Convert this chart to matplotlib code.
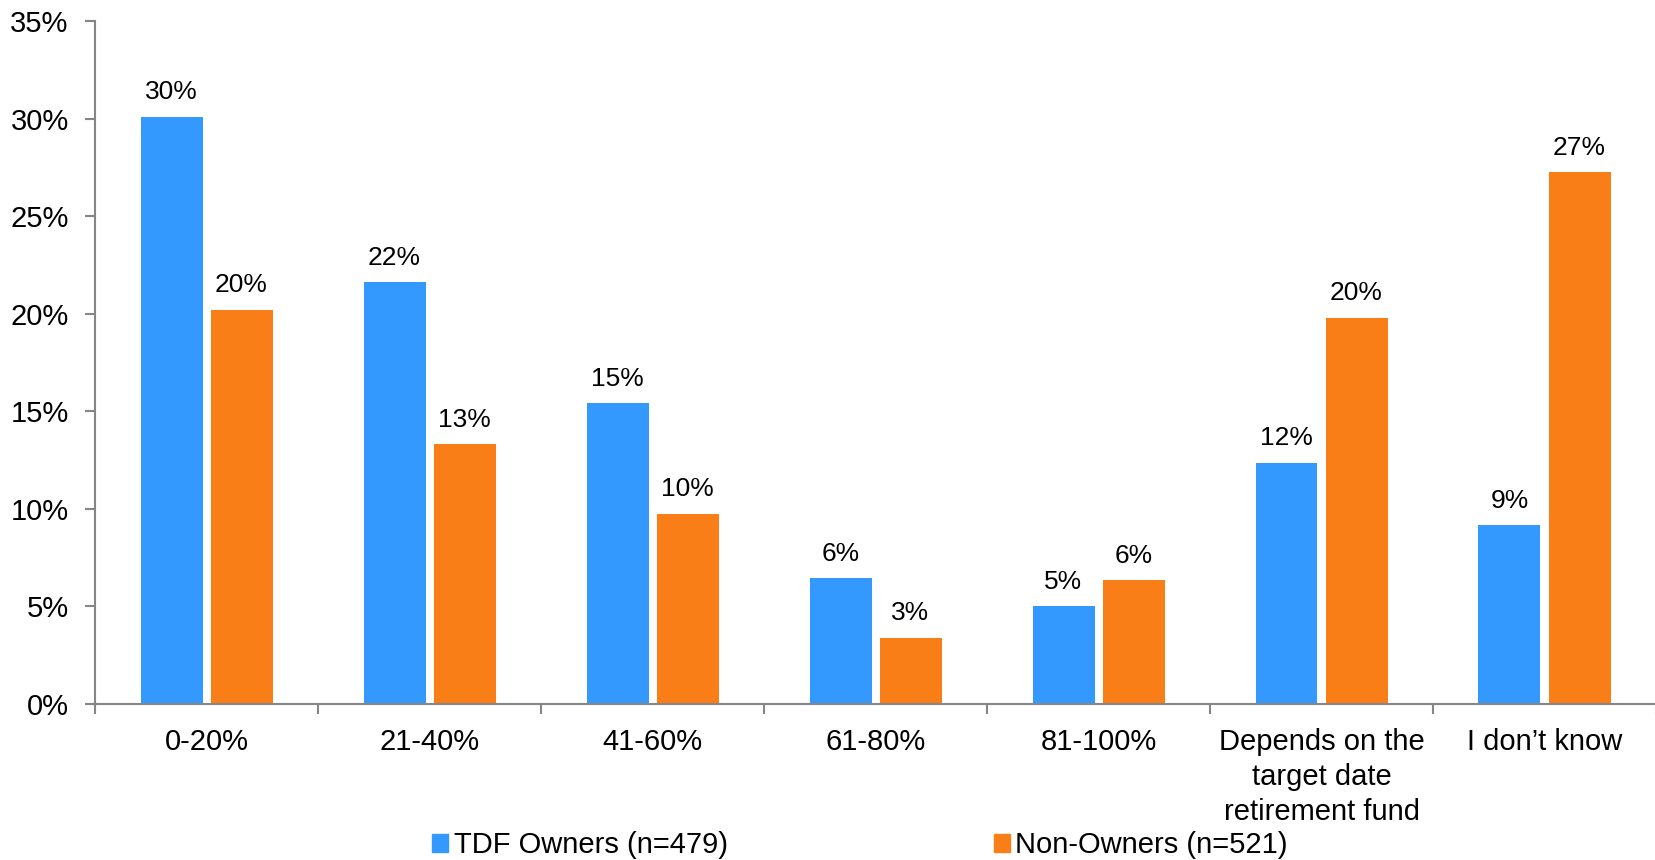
import matplotlib
matplotlib.use("Agg")
import matplotlib.pyplot as plt
import numpy as np
from matplotlib.patches import Patch
from matplotlib.ticker import FixedLocator, FuncFormatter

plt.rcParams['font.family'] = ['Liberation Sans', 'DejaVu Sans']

categories = ['0-20%', '21-40%', '41-60%', '61-80%', '81-100%',
              'Depends on the\ntarget date\nretirement fund', 'I don\u2019t know']
owners     = [30.1, 21.6, 15.4, 6.45, 5.0, 12.35, 9.15]
non_owners = [20.2, 13.3, 9.75, 3.4, 6.35, 19.8, 27.25]
series_names = ['TDF Owners (n=479)', 'Non-Owners (n=521)']

BLUE, ORANGE, GREY = '#3399FF', '#F97E17', '#868686'

fig = plt.figure(figsize=(16.56, 8.60), dpi=100)
ax = fig.add_axes([0.0574, 0.1814, 0.9426, 0.7942])

x = np.arange(len(categories))
w, off = 0.278, 0.157
b1 = ax.bar(x - off, owners, w, color=BLUE)
b2 = ax.bar(x + off, non_owners, w, color=ORANGE)

for bars, vals in [(b1, owners), (b2, non_owners)]:
    for r, v in zip(bars, vals):
        ax.annotate(f"{v:.0f}%", (r.get_x() + r.get_width() / 2, v),
                    xytext=(0, 9), textcoords='offset points',
                    ha='center', va='bottom', fontsize=19)

ax.set_xlim(-0.5, len(categories) - 0.5)
ax.set_ylim(0, 35)
ax.set_yticks(range(0, 36, 5))
ax.yaxis.set_major_formatter(FuncFormatter(lambda v, p: f"{v:.0f}%"))
ax.set_xticks(x)
ax.set_xticklabels(categories, fontsize=21, linespacing=1.32, va='top')
ax.xaxis.set_minor_locator(FixedLocator(np.arange(-0.5, len(categories) - 0.4, 1)))
ax.tick_params(axis='x', which='major', length=0, pad=17)
ax.tick_params(axis='x', which='minor', length=7, width=1.5, color=GREY)
ax.tick_params(axis='y', labelsize=21, length=7, width=1.5, color=GREY, pad=12)

for s in ['top', 'right']:
    ax.spines[s].set_visible(False)
for s in ['left', 'bottom']:
    ax.spines[s].set_color(GREY)
    ax.spines[s].set_linewidth(1.5)

handles = [Patch(color=BLUE), Patch(color=ORANGE)]
fig.legend(handles, series_names, loc='center left', bbox_to_anchor=(0.254, 0.017),
           ncol=2, frameon=False, fontsize=21, handlelength=0.55, handleheight=0.55,
           handletextpad=0.2, columnspacing=9.1, borderaxespad=0)

fig.savefig('out.png', dpi=100)
